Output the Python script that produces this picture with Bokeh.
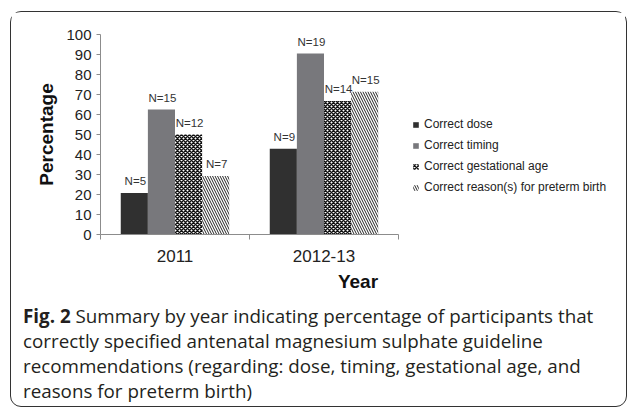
import numpy as np
from bokeh.plotting import figure
from bokeh.layouts import column
from bokeh.models import (ColumnDataSource, FixedTicker, Legend, LegendItem,
                          Range1d, Div)
from bokeh.transform import dodge
from bokeh.core.properties import value
from bokeh.embed import file_html
from bokeh.resources import INLINE

# ---- data ----
years = ["2011", "2012-13"]
series = ["Correct dose", "Correct timing", "Correct gestational age",
          "Correct reason(s) for preterm birth"]
dose = [20.8, 42.9]
timing = [62.5, 90.5]
gestational = [50.0, 66.7]
reasons = [29.2, 71.4]
n_dose = ["N=5", "N=9"]
n_timing = ["N=15", "N=19"]
n_gestational = ["N=12", "N=14"]
n_reasons = ["N=7", "N=15"]
y_ticks = [0, 10, 20, 30, 40, 50, 60, 70, 80, 90, 100]

caption_bold = "Fig. 2"
caption_lines = [
    "Summary by year indicating percentage of participants that",
    "correctly specified antenatal magnesium sulphate guideline",
    "recommendations (regarding: dose, timing, gestational age, and",
    "reasons for preterm birth)",
]

W = 614
H1, H2 = 282, 111
left_b, top_b, frame_bottom = 89, 22, 226
axis_w = 298          # pixel length of the category axis
right_b = 10
frame_w = W - left_b - right_b
x_end = len(years) * frame_w / axis_w

p = figure(width=W, height=H1, x_range=Range1d(0, x_end), y_range=Range1d(0, 100),
           output_backend="svg", toolbar_location=None,
           min_border_left=left_b, min_border_right=right_b,
           min_border_top=top_b, min_border_bottom=H1 - frame_bottom)
p.outline_line_color = None
p.xgrid.visible = False
p.ygrid.visible = False
p.background_fill_color = "white"
p.border_fill_color = "white"

xc = np.arange(len(years)) + 0.5
src = ColumnDataSource(dict(x=xc, dose=dose, timing=timing,
                            gestational=gestational, reasons=reasons,
                            n_dose=n_dose, n_timing=n_timing,
                            n_gestational=n_gestational, n_reasons=n_reasons))

bw = 0.182
offs = [-1.5 * bw, -0.5 * bw, 0.5 * bw, 1.5 * bw]
styles = [
    dict(fill_color="#303030", line_color=None),
    dict(fill_color="#78787c", line_color=None),
    dict(fill_color="white", line_color=None, hatch_pattern="diagonal_cross",
         hatch_color="#111111", hatch_scale=4, hatch_weight=1.5),
    dict(fill_color="white", line_color=None, hatch_pattern="left_diagonal_line",
         hatch_color="#222222", hatch_scale=5, hatch_weight=1),
]
cols = ["dose", "timing", "gestational", "reasons"]
ncols = ["n_dose", "n_timing", "n_gestational", "n_reasons"]
items = []
for col, ncol, off, st, name in zip(cols, ncols, offs, styles, series):
    r = p.vbar(x=dodge("x", off), top=col, width=bw, bottom=0, source=src, **st)
    items.append(LegendItem(label=name, renderers=[r]))
    p.text(x=dodge("x", off), y=col, text=ncol, source=src,
           text_align="center", text_baseline="middle", y_offset=-12, x_offset=1,
           text_font=value("Liberation Sans"), text_font_size="11.5px",
           text_color="#333333")

legend = Legend(items=items, location=(312, 40), orientation="vertical",
                glyph_width=7, glyph_height=7, label_height=14, spacing=7,
                label_standoff=5, padding=0, margin=0,
                label_text_font="Liberation Sans", label_text_font_size="12px",
                label_text_color="#222222",
                border_line_color=None, background_fill_alpha=0)
p.add_layout(legend, "center")

# y axis
ya = p.yaxis[0]
ya.ticker = FixedTicker(ticks=y_ticks)
ya.major_tick_out = 4
ya.major_tick_in = 0
ya.minor_tick_out = 0
ya.minor_tick_in = 0
ya.axis_line_color = "#8c8c8c"
ya.major_tick_line_color = "#8c8c8c"
ya.major_label_text_font = "Liberation Sans"
ya.major_label_text_font_size = "15px"
ya.major_label_text_color = "#222222"
ya.major_label_standoff = 5
ya.axis_label = "Percentage"
ya.axis_label_text_font = "Liberation Sans"
ya.axis_label_text_font_style = "bold"
ya.axis_label_text_font_size = "19px"
ya.axis_label_text_color = "#111111"
ya.axis_label_standoff = 6

# x axis (line limited to the two categories)
xa = p.xaxis[0]
xa.bounds = (0, len(years))
xa.ticker = FixedTicker(ticks=list(xc), minor_ticks=list(range(len(years) + 1)))
xa.major_label_overrides = {float(x): y for x, y in zip(xc, years)}
xa.major_tick_out = 0
xa.major_tick_in = 0
xa.minor_tick_out = 5
xa.minor_tick_in = 0
xa.axis_line_color = "#8c8c8c"
xa.minor_tick_line_color = "#8c8c8c"
xa.major_label_text_font = "Liberation Sans"
xa.major_label_text_font_size = "17px"
xa.major_label_text_color = "#222222"
xa.major_label_standoff = 10
xa.axis_label = "Year"
xa.axis_label_text_font = "Liberation Sans"
xa.axis_label_text_font_style = "bold"
xa.axis_label_text_font_size = "19px"
xa.axis_label_text_color = "#111111"
xa.axis_label_standoff = 6

# ---- caption ----
cap_html = ("<div style=\"font-family:'Open Sans',sans-serif;font-size:18.8px;"
            "line-height:25px;color:#231f20;white-space:nowrap;"
            "padding:5px 0 0 7px\">"
            f"<b>{caption_bold}</b> " + "<br>".join(caption_lines) + "</div>")
cap = Div(text=cap_html, width=W, height=H2)

layout = column(p, cap, spacing=0,
                styles={"border": "1.5px solid #333333",
                        "border-radius": "11px",
                        "box-sizing": "border-box",
                        "width": f"{W + 3}px",
                        "height": f"{H1 + H2 + 3}px",
                        "margin": "11px 0 0 10px",
                        "background-color": "white"})

open("out.html", "w").write(file_html(layout, INLINE))
